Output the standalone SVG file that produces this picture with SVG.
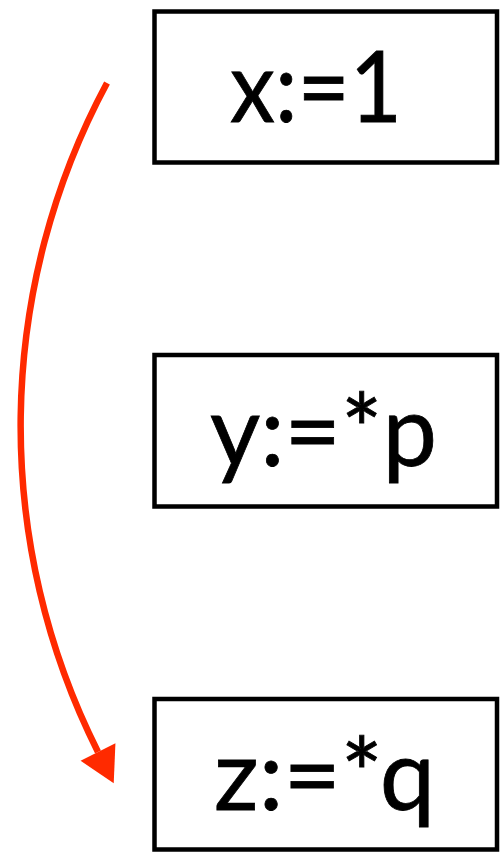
<svg xmlns="http://www.w3.org/2000/svg" width="502" height="852" viewBox="0 0 502 852">
  <style>
    .box { fill: #ffffff; stroke: #000000; stroke-width: 4.5; }
    .lbl { font-family: Lato, "Open Sans", "Liberation Sans", sans-serif; font-size: 98px; fill: #000000; stroke: #000000; stroke-width: 0.8; }
    .edge { fill: none; stroke: #FF2A00; stroke-width: 6.5; }
  </style>
  <defs>
    <marker id="arrow" markerUnits="userSpaceOnUse" viewBox="0 -20 36 40" markerWidth="36" markerHeight="40" refX="0" refY="0" orient="auto" overflow="visible">
      <path d="M0,-19.5 L35,0 L0,19.5 Z" fill="#FF2A00"/>
    </marker>
  </defs>
  <rect width="502" height="852" fill="#ffffff"/>
  <g id="node-x">
    <rect class="box" x="154.5" y="11.5" width="342.5" height="151"/>
    <text class="lbl" x="230" y="122" textLength="172" lengthAdjust="spacingAndGlyphs">x:=1</text>
  </g>
  <g id="node-y">
    <rect class="box" x="154.5" y="355" width="342.5" height="151.5"/>
    <text class="lbl" x="210" y="466" textLength="227" lengthAdjust="spacingAndGlyphs">y:=*p</text>
  </g>
  <g id="node-z">
    <rect class="box" x="154.5" y="699" width="342.5" height="150.5"/>
    <text class="lbl" x="214" y="810" textLength="221" lengthAdjust="spacingAndGlyphs">z:=*q</text>
  </g>
  <g id="connectors">
    <path class="edge" d="M107,83 A725,725 0 0,0 98,752" marker-end="url(#arrow)"/>
  </g>
</svg>
